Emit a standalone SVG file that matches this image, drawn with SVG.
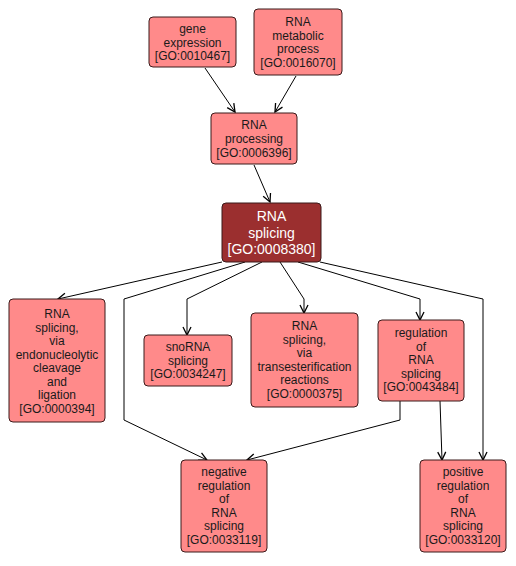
<svg xmlns="http://www.w3.org/2000/svg" width="516" height="566" viewBox="0 0 516 566">
<defs>
<marker id="ah" markerWidth="12" markerHeight="12" refX="9" refY="5" orient="auto" markerUnits="userSpaceOnUse">
<path d="M1,1 L9,5 L1,9" fill="none" stroke="#000" stroke-width="1.3"/>
</marker>
<style>
.n rect{fill:#ff8a8a;stroke:#3a1a1a;stroke-width:1}
.n text{font-family:"Liberation Sans",Arial,sans-serif;font-size:12px;fill:#1a1a1a;text-anchor:middle}
#GO0008380 rect{fill:#9b2f2f}
#GO0008380 text{fill:#ffffff;font-size:14px}
.e path{fill:none;stroke:#000;stroke-width:1;marker-end:url(#ah)}
</style>
</defs>
<rect width="516" height="566" fill="#fff"/>
<g class="e">
<path d="M205,68 L235,112"/>
<path d="M296,76 L275,112"/>
<path d="M254,165 L270,202"/>
<path d="M222,262 L58,299"/>
<path d="M245,262 L124,299 L124,420 L207,460"/>
<path d="M262,262 L187,299 L187,335"/>
<path d="M280,262 L304,299 L304,313"/>
<path d="M298,262 L420,299 L420,320"/>
<path d="M320,262 L483,299 L483,460"/>
<path d="M400,401 L400,420 L247,460"/>
<path d="M440,401 L442,460"/>
</g>
<g class="n" id="GO0010467">
<rect x="149" y="17" width="87" height="50" rx="4"/>
<text x="192.5" y="33">gene</text>
<text x="192.5" y="46.5">expression</text>
<text x="192.5" y="60">[GO:0010467]</text>
</g>
<g class="n" id="GO0016070">
<rect x="254" y="9" width="88" height="66" rx="4"/>
<text x="298" y="26">RNA</text>
<text x="298" y="39.5">metabolic</text>
<text x="298" y="53">process</text>
<text x="298" y="66.5">[GO:0016070]</text>
</g>
<g class="n" id="GO0006396">
<rect x="211" y="113" width="86" height="51" rx="4"/>
<text x="254" y="129">RNA</text>
<text x="254" y="143">processing</text>
<text x="254" y="157">[GO:0006396]</text>
</g>
<g class="n" id="GO0008380">
<rect x="222" y="203" width="99" height="59" rx="4"/>
<text x="271.5" y="221">RNA</text>
<text x="271.5" y="237.5">splicing</text>
<text x="271.5" y="254">[GO:0008380]</text>
</g>
<g class="n" id="GO0000394">
<rect x="9" y="299" width="96" height="123" rx="4"/>
<text x="57" y="318">RNA</text>
<text x="57" y="331.5">splicing,</text>
<text x="57" y="345">via</text>
<text x="57" y="358.5">endonucleolytic</text>
<text x="57" y="372">cleavage</text>
<text x="57" y="385.5">and</text>
<text x="57" y="399">ligation</text>
<text x="57" y="412.5">[GO:0000394]</text>
</g>
<g class="n" id="GO0034247">
<rect x="144" y="335" width="88" height="51" rx="4"/>
<text x="188" y="351">snoRNA</text>
<text x="188" y="364.5">splicing</text>
<text x="188" y="378">[GO:0034247]</text>
</g>
<g class="n" id="GO0000375">
<rect x="251" y="313" width="107" height="94" rx="4"/>
<text x="304.5" y="330">RNA</text>
<text x="304.5" y="343.5">splicing,</text>
<text x="304.5" y="357">via</text>
<text x="304.5" y="370.5">transesterification</text>
<text x="304.5" y="384">reactions</text>
<text x="304.5" y="397.5">[GO:0000375]</text>
</g>
<g class="n" id="GO0043484">
<rect x="378" y="320" width="86" height="81" rx="4"/>
<text x="421" y="337">regulation</text>
<text x="421" y="350.5">of</text>
<text x="421" y="364">RNA</text>
<text x="421" y="377.5">splicing</text>
<text x="421" y="391">[GO:0043484]</text>
</g>
<g class="n" id="GO0033119">
<rect x="181" y="460" width="86" height="92" rx="4"/>
<text x="224" y="476">negative</text>
<text x="224" y="489.5">regulation</text>
<text x="224" y="503">of</text>
<text x="224" y="516.5">RNA</text>
<text x="224" y="530">splicing</text>
<text x="224" y="543.5">[GO:0033119]</text>
</g>
<g class="n" id="GO0033120">
<rect x="420" y="460" width="86" height="92" rx="4"/>
<text x="463" y="476">positive</text>
<text x="463" y="489.5">regulation</text>
<text x="463" y="503">of</text>
<text x="463" y="516.5">RNA</text>
<text x="463" y="530">splicing</text>
<text x="463" y="543.5">[GO:0033120]</text>
</g>
</svg>
